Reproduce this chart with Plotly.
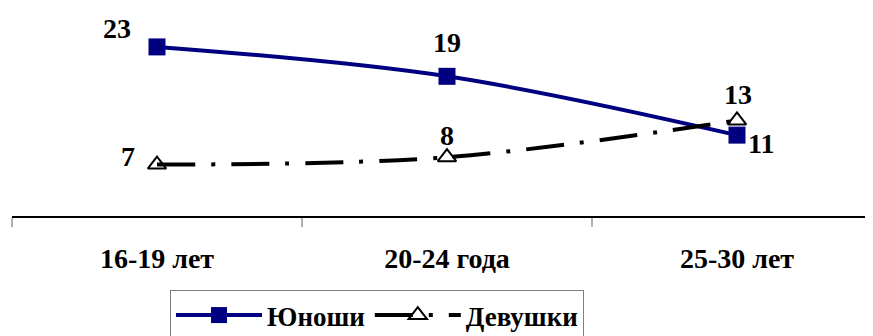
import plotly.graph_objects as go

# age groups and values
ages = ["16-19 лет", "20-24 года", "25-30 лет"]
boys = [23, 19, 11]
girls = [7, 8, 13]
boys_name = "Юноши"
girls_name = "Девушки"

# label offsets (px) for the value labels
boys_shift = [(-40, 18), (0, 34), (24, -8)]
girls_shift = [(-29, 8), (0, 22), (1, 26)]

FONT = "Liberation Serif"

fig = go.Figure()
fig.add_trace(go.Scatter(
    x=ages, y=boys, name=boys_name, mode="lines+markers",
    line=dict(color="#000080", width=4, shape="spline"),
    marker=dict(symbol="square", size=17, color="#000080")))
fig.add_trace(go.Scatter(
    x=ages, y=girls, name=girls_name, mode="lines+markers",
    line=dict(color="black", width=4, shape="spline", dash="38px,16px,4px,16px"),
    marker=dict(symbol="triangle-up-open", size=16, color="black",
                line=dict(width=2, color="black"))))

# value labels
for vals, shifts in [(boys, boys_shift), (girls, girls_shift)]:
    for a, v, (dx, dy) in zip(ages, vals, shifts):
        fig.add_annotation(x=a, y=v, text="<b>%d</b>" % v, showarrow=False,
                           xshift=dx, yshift=dy,
                           font=dict(family=FONT, size=28, color="black"))

fig.update_layout(
    width=873, height=336,
    margin=dict(l=4, r=0, t=22, b=128),
    paper_bgcolor="white", plot_bgcolor="white",
    font=dict(family=FONT, color="black"),
    legend=dict(orientation="h", x=0.1818, y=-0.398, xanchor="left", yanchor="top",
                bordercolor="#808080", borderwidth=1, bgcolor="white",
                font=dict(family=FONT, size=27, color="black"),
                itemwidth=86),
)
fig.for_each_trace(lambda t: t.update(name="<b>%s</b>" % t.name))
fig.update_xaxes(type="category", range=[-0.5, 2.4966], tickson="boundaries",
                 ticks="outside", ticklen=9, tickwidth=2, tickcolor="#b0b0b0",
                 showline=True, linecolor="black", linewidth=2, showgrid=False,
                 ticklabelstandoff=16,
                 ticktext=["<b>%s</b>" % a for a in ages], tickvals=ages,
                 tickfont=dict(family=FONT, size=28, color="black"))
fig.update_yaxes(range=[0, 25.3], visible=False)

fig.write_html("out.html")
